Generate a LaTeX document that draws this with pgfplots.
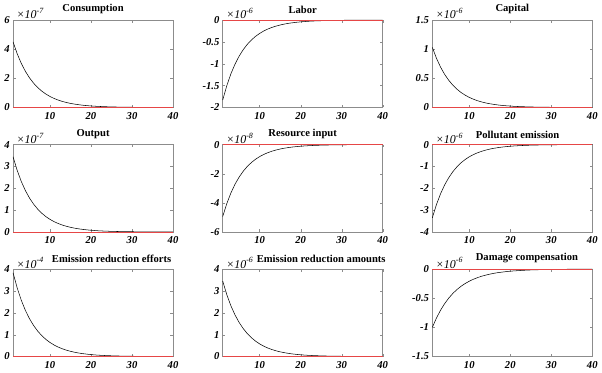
\documentclass[border=0pt]{standalone}
\usepackage{fontspec}
\setmainfont{Liberation Serif}
\usepackage{pgfplots}
\usepackage{pgfplotstable}
\pgfplotsset{compat=1.18}
\usepgfplotslibrary{groupplots}

% impulse responses, values in units of the exponent shown on each panel
\pgfplotstableread{
t  c      l       k      y      r       p       e      a      d
1  4.500 -1.830  1.030  3.440 -4.940  -3.350  3.830  3.450 -1.000
2  3.690 -1.501  0.845  2.821 -4.051  -2.747  3.141  2.829 -0.840
3  3.026 -1.230  0.693  2.313 -3.322  -2.253  2.575  2.320 -0.706
4  2.481 -1.009  0.568  1.897 -2.724  -1.847  2.112  1.902 -0.593
5  2.034 -0.827  0.466  1.555 -2.233  -1.515  1.732  1.560 -0.498
6  1.668 -0.678  0.382  1.275 -1.831  -1.242  1.420  1.279 -0.418
7  1.368 -0.556  0.313  1.046 -1.502  -1.018  1.164  1.049 -0.351
8  1.122 -0.456  0.257  0.858 -1.232  -0.835  0.955  0.860 -0.295
9  0.920 -0.374  0.211  0.703 -1.010  -0.685  0.783  0.705 -0.248
10 0.754 -0.307  0.173  0.577 -0.828  -0.561  0.642  0.578 -0.208
11 0.618 -0.251  0.142  0.473 -0.679  -0.460  0.526  0.474 -0.175
12 0.507 -0.206  0.116  0.388 -0.557  -0.378  0.432  0.389 -0.147
13 0.416 -0.169  0.095  0.318 -0.456  -0.310  0.354  0.319 -0.123
14 0.341 -0.139  0.078  0.261 -0.374  -0.254  0.290  0.262 -0.104
15 0.279 -0.114  0.064  0.214 -0.307  -0.208  0.238  0.214 -0.087
16 0.230 -0.093  0.053  0.175 -0.252  -0.171  0.195  0.176 -0.073
17 0.188 -0.076  0.043  0.144 -0.206  -0.140  0.160  0.144 -0.061
18 0.154 -0.063  0.035  0.118 -0.169  -0.115  0.131  0.118 -0.052
19 0.126 -0.051  0.029  0.097 -0.139  -0.094  0.108  0.097 -0.043
20 0.104 -0.042  0.024  0.079 -0.114  -0.077  0.088  0.079 -0.036
21 0.085 -0.035  0.019  0.065 -0.093  -0.063  0.072  0.065 -0.031
22 0.070 -0.028  0.016  0.053 -0.077  -0.052  0.059  0.053 -0.026
23 0.057 -0.023  0.013  0.044 -0.063  -0.043  0.049  0.044 -0.022
24 0.047 -0.019  0.011  0.036 -0.051  -0.035  0.040  0.036 -0.018
25 0.038 -0.016  0.009  0.029 -0.042  -0.028  0.033  0.029 -0.015
26 0.032 -0.013  0.007  0.024 -0.035  -0.023  0.027  0.024 -0.013
27 0.026 -0.010  0.006  0.020 -0.028  -0.019  0.022  0.020 -0.011
28 0.021 -0.009  0.005  0.016 -0.023  -0.016  0.018  0.016 -0.009
29 0.018 -0.007  0.004  0.013 -0.019  -0.013  0.015  0.013 -0.008
30 0.014 -0.006  0.003  0.011 -0.016  -0.011  0.012  0.011 -0.006
31 0.012 -0.005  0.003  0.009 -0.013  -0.009  0.010  0.009 -0.005
32 0.009 -0.004  0.002  0.007 -0.010  -0.007  0.008  0.007 -0.005
33 0.008 -0.003  0.002  0.006 -0.008  -0.006  0.007  0.006 -0.004
34 0.006 -0.003  0.001  0.005 -0.007  -0.005  0.005  0.005 -0.003
35 0.005 -0.002  0.001  0.004 -0.006  -0.004  0.004  0.004 -0.003
36 0.005 -0.002  0.001  0.003 -0.005  -0.003  0.004  0.003 -0.002
37 0.004 -0.001  0.001  0.003 -0.004  -0.003  0.003  0.003 -0.002
38 0.003 -0.001  0.001  0.002 -0.003  -0.002  0.002  0.002 -0.002
39 0.002 -0.001  0.001  0.002 -0.002  -0.002  0.002  0.002 -0.001
40 0.002 -0.001  0.000  0.001 -0.002  -0.001  0.002  0.001 -0.001
}\irf

\definecolor{ssred}{RGB}{230,70,70}
\definecolor{frame}{RGB}{140,140,140}

\newcommand{\expo}[1]{\node[anchor=south west, font=\itshape\small, inner sep=0.5pt, xshift=2pt] at (rel axis cs:0,1) {×10\textsuperscript{#1}};}

\begin{document}
\begin{tikzpicture}
\begin{groupplot}[
    group style={group size=3 by 3, horizontal sep=37.5pt, vertical sep=28pt},
    scale only axis,
    width=120.75pt, height=66pt,
    xmin=1, xmax=40,
    xtick={10,20,30,40},
    clip=false,
    tick align=inside,
    major tick length=2pt,
    axis line style={frame},
    tick style={frame},
    scaled ticks=false,
    /pgf/number format/assume math mode=true,
    ticklabel style={font=\bfseries\itshape\footnotesize},
    yticklabel style={xshift=1pt},
    title style={font=\bfseries\fontsize{8}{9}\selectfont, yshift=-5pt},
]
\nextgroupplot[title={Consumption}, ymin=0, ymax=6, ytick={0,2,4,6}]
\addplot[black, thin] table[x=t, y=c] {\irf};
\addplot[ssred, semithick] coordinates {(1,0) (40,0)};
\expo{-7}

\nextgroupplot[title={Labor}, ymin=-2, ymax=0, ytick={-2,-1.5,-1,-0.5,0}]
\addplot[black, thin] table[x=t, y=l] {\irf};
\addplot[ssred, semithick] coordinates {(1,0) (40,0)};
\expo{-6}

\nextgroupplot[title={Capital}, ymin=0, ymax=1.5, ytick={0,0.5,1,1.5}]
\addplot[black, thin] table[x=t, y=k] {\irf};
\addplot[ssred, semithick] coordinates {(1,0) (40,0)};
\expo{-6}

\nextgroupplot[title={Output}, ymin=0, ymax=4, ytick={0,1,2,3,4}]
\addplot[black, thin] table[x=t, y=y] {\irf};
\addplot[ssred, semithick] coordinates {(1,0) (40,0)};
\expo{-7}

\nextgroupplot[title={Resource input}, ymin=-6, ymax=0, ytick={-6,-4,-2,0}]
\addplot[black, thin] table[x=t, y=r] {\irf};
\addplot[ssred, semithick] coordinates {(1,0) (40,0)};
\expo{-8}

\nextgroupplot[title={Pollutant emission}, title style={xshift=4pt}, ymin=-4, ymax=0, ytick={-4,-3,-2,-1,0}]
\addplot[black, thin] table[x=t, y=p] {\irf};
\addplot[ssred, semithick] coordinates {(1,0) (40,0)};
\expo{-6}

\nextgroupplot[title={Emission reduction efforts}, title style={xshift=14pt}, ymin=0, ymax=4, ytick={0,1,2,3,4}]
\addplot[black, thin] table[x=t, y=e] {\irf};
\addplot[ssred, semithick] coordinates {(1,0) (40,0)};
\expo{-4}

\nextgroupplot[title={Emission reduction amounts}, title style={xshift=14pt}, ymin=0, ymax=4, ytick={0,1,2,3,4}]
\addplot[black, thin] table[x=t, y=a] {\irf};
\addplot[ssred, semithick] coordinates {(1,0) (40,0)};
\expo{-6}

\nextgroupplot[title={Damage compensation}, title style={xshift=11pt}, ymin=-1.5, ymax=0, ytick={-1.5,-1,-0.5,0}]
\addplot[black, thin] table[x=t, y=d] {\irf};
\addplot[ssred, semithick] coordinates {(1,0) (40,0)};
\expo{-6}
\end{groupplot}
\end{tikzpicture}
\end{document}
